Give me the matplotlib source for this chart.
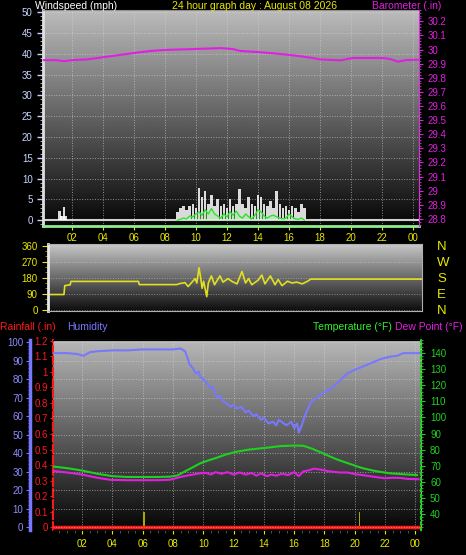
#!/usr/bin/env python3
"""24 hour weather graph: wind/barometer, wind direction, rain/humidity/temperature."""
import matplotlib
matplotlib.use("Agg")
import matplotlib.pyplot as plt
import numpy as np
from matplotlib.ticker import MultipleLocator, FixedLocator

# ---- data ----
hour_ticks = [2, 4, 6, 8, 10, 12, 14, 16, 18, 20, 22, 24]
hour_labels = ["02", "04", "06", "08", "10", "12", "14", "16", "18", "20", "22", "00"]

baro_hours = [0.15, 1, 1.5, 2, 3, 4, 5, 6, 7, 8, 8.5, 9.5, 10.5, 11.1, 11.6, 12.4,
              12.85, 14, 15, 16, 16.7, 17.5, 18, 19, 19.3, 20.1, 21, 22.1, 22.6, 23,
              23.5, 24.3]
baro_inhg = [29.925, 29.925, 29.917, 29.925, 29.93, 29.945, 29.96, 29.975, 29.989,
             29.997, 29.999, 30.002, 30.006, 30.008, 30.01, 30.003, 29.99, 29.982,
             29.973, 29.962, 29.953, 29.94, 29.93, 29.925, 29.923, 29.94, 29.94,
             29.94, 29.93, 29.914, 29.925, 29.928]

gust_hours = [1.2, 1.3, 1.4, 1.5, 1.6] + list(np.round(np.arange(8.8, 17.01, 0.2), 1))
gust_mph = [2.3, 1.0, 1.0, 3.1, 1.0,
            2, 3, 3.5, 2.5, 3.5, 4, 3, 7.8, 5.5, 7, 4, 6, 3.5, 5, 3.5, 4, 3, 5, 3.5,
            4, 7.5, 4, 3, 5.5, 4, 3.5, 6, 5.5, 4, 3.5, 4.5, 3, 7, 4, 3, 3.5, 2.5,
            3.5, 3, 2, 4, 3]
avg_mph = [0, 0, 0, 0, 0,
           0, 0.2, 0.5, 0.3, 1, 0.8, 1.5, 2, 1.2, 2.5, 1.5, 2.8, 1.5, 1, 0.5, 1.5,
           0.8, 2, 1.2, 2.2, 1, 0.5, 1.5, 0.8, 0.3, 1.2, 2.5, 2, 1, 0.5, 1, 1.2, 0.8,
           0.5, 0.3, 0.5, 1.5, 0.8, 0.3, 0.2, 0.5, 0]

dir_hours = [0.5, 1.5, 1.55, 1.9, 1.95, 6.3, 6.35, 8.76, 8.97, 9.3, 9.5, 9.8, 9.95,
             10.06, 10.2, 10.3, 10.4, 10.5, 10.7, 10.8, 11.0, 11.2, 11.55, 11.75,
             12.07, 12.3, 12.65, 12.97, 13.2, 13.4, 13.6, 14.0, 14.25, 14.45, 14.8,
             15.1, 15.3, 15.55, 15.9, 16.2, 16.5, 16.85, 17.2, 17.4, 24.6]
dir_deg = [85, 85, 135, 140, 159, 159, 141, 141, 147, 152, 130, 160, 175, 150, 236,
           185, 120, 160, 73, 150, 190, 140, 190, 155, 175, 160, 145, 215, 150, 175,
           140, 165, 195, 145, 190, 140, 170, 135, 160, 150, 155, 145, 160, 172, 172]

hum_hours = [0.1, 1.0, 1.7, 2.1, 2.5, 3.0, 4.0, 5.0, 6.0, 7.0, 8.0, 8.5, 8.8, 9.1,
             9.3, 9.5, 9.7, 9.8, 10.0, 10.2, 10.3, 10.5, 10.6, 10.8, 10.9, 11.1, 11.3,
             11.5, 11.8, 12.0, 12.2, 12.5, 12.8, 13.0, 13.3, 13.5, 13.8, 14.0, 14.3,
             14.6, 14.8, 15.0, 15.3, 15.5, 15.8, 16.0, 16.2, 16.3, 16.5, 16.7, 17.1,
             17.5, 18.0, 18.4, 19.0, 19.5, 20.0, 20.6, 21.2, 21.7, 22.3, 22.8, 23.2,
             24.3]
hum_pct = [94, 94, 93.5, 92.5, 94.5, 95, 95.5, 95.5, 96, 96, 96, 96.5, 95, 88, 86, 83,
           84, 81, 80, 78, 77, 75, 76, 72, 70, 71, 68, 67, 65, 66, 64, 65, 62, 63, 60,
           61, 58, 59, 56, 57, 55, 58, 56, 55, 57, 53.5, 56, 51, 55, 60, 67.5, 70, 73,
           74.6, 79, 83, 85, 87, 89, 90.8, 92, 92.6, 94, 94]

temp_hours = [0.1, 1, 2, 3, 4, 5, 6, 7, 7.8, 8.3, 8.7, 9.2, 9.8, 10.4, 10.9, 11.5,
              12.2, 13, 14, 14.5, 15.1, 16, 16.6, 17.2, 17.7, 18.3, 18.8, 19.4, 19.9,
              20.5, 21.2, 21.8, 22.3, 23, 24.1]
temp_f = [69.5, 68.5, 67, 65, 63.5, 63, 63, 63, 63.2, 64, 66, 68.5, 71.5, 73.5, 75,
          77, 78.7, 80, 81, 81.5, 82.2, 82.5, 82.4, 80.5, 78.5, 76, 74, 72, 70.4,
          68.5, 67, 66, 65.3, 64.8, 64.2]

dew_hours = [0.1, 1, 2, 3, 3.9, 5, 6, 7, 7.8, 8.5, 9, 9.8, 10.2, 10.5, 10.8, 11.2,
             11.6, 12, 12.4, 12.8, 13.2, 13.5, 13.8, 14.2, 14.5, 14.8, 15.2, 15.6, 16,
             16.3, 16.6, 17, 17.3, 17.8, 18.3, 19, 19.5, 20, 20.5, 21, 21.5, 22, 22.5,
             23, 23.5, 24.2]
dew_f = [66.7, 65.8, 64.5, 62.5, 61.2, 61, 61, 61, 61.3, 63, 64, 65.3, 65.5, 64.5, 66,
         65, 66, 64.5, 65.8, 64.5, 65.5, 63.8, 65.2, 63.5, 64.5, 63.8, 65, 64.2, 66,
         63.5, 66.5, 67.2, 68.2, 67.5, 66.5, 65.8, 65.8, 64.8, 64.2, 63.5, 62.8, 62.2,
         62.5, 62.4, 61.8, 61.6]

rain_hours = [0.1, 24.4]
rain_in = [0, 0]
rate_hours = [6.1, 20.3]
rate_in = [0.1, 0.1]

compass = ["N", "E", "S", "W", "N"]

YELLOW = "#e8e800"
MAGENTA = "#e020e0"
GREEN = "#20d020"
BLUE = "#7878ff"
RED = "#ff1818"

plt.rcParams["font.family"] = ["Liberation Sans", "DejaVu Sans"]
plt.rcParams["font.size"] = 7


def shade(ax, top, bottom):
    grad = np.linspace(top, bottom, 256).reshape(-1, 1)
    ax.imshow(grad, extent=[0, 1, 0, 1], transform=ax.transAxes, aspect="auto",
              cmap="gray", vmin=0, vmax=1, zorder=0, interpolation="bilinear")


def px(x, y, w, h):
    W, H = 466, 555
    return [x / W, 1 - (y + h) / H, w / W, h / H]


def short(v, p):
    # 30 -> "30", 29.9 -> "29.9", 1.0 -> "1"
    if abs(v - round(v)) < 1e-6:
        return "%d" % round(v)
    return "%.1f" % v


fig = plt.figure(figsize=(4.66, 5.55), dpi=100, facecolor="black")

# ---- 1) windspeed + barometer ----
ax = fig.add_axes(px(43, 10, 376, 216))
shade(ax, 0.74, 0.02)
ax.bar(gust_hours, gust_mph, width=0.16, color="white", alpha=0.85, zorder=3)
ax.fill_between(gust_hours[5:], 0, avg_mph[5:], color="#a0f0a0", alpha=0.45,
                zorder=4, linewidth=0)
ax.plot(gust_hours[5:], avg_mph[5:], color="#30e030", lw=1.0, zorder=5)
ax.axhline(0, color="#d0d0d0", lw=1.5, zorder=2)
ax.set_xlim(0.15, 24.37)
ax.set_ylim(-1.4, 50.5)
ax.yaxis.set_major_locator(MultipleLocator(5))
ax.yaxis.set_minor_locator(MultipleLocator(1))
ax.xaxis.set_major_locator(FixedLocator(hour_ticks))
ax.set_xticklabels(hour_labels)
ax.grid(color="#d8d8d8", ls=":", lw=0.7, alpha=0.6)
ax.tick_params(axis="y", colors="#c8d4ff", labelsize=7, length=4, width=1)
ax.tick_params(axis="y", which="minor", colors="#c8c8c8", length=2)
ax.tick_params(axis="x", colors=YELLOW, labelsize=7, length=3, pad=2)
for s in ax.spines.values():
    s.set_color("#909090")
ax.spines["left"].set_color("#e0e0e0")
ax.spines["left"].set_linewidth(2)
ax.spines["bottom"].set_color("#90ee90")
ax.spines["bottom"].set_linewidth(2)

axb = ax.twinx()
axb.plot(baro_hours, baro_inhg, color=MAGENTA, lw=1.5)
axb.set_ylim(28.75, 30.28)
axb.yaxis.set_major_locator(MultipleLocator(0.1))
axb.yaxis.set_minor_locator(MultipleLocator(0.02))
axb.yaxis.set_major_formatter(plt.FuncFormatter(short))
axb.tick_params(axis="y", colors=MAGENTA, labelsize=7, length=3)
axb.tick_params(axis="y", which="minor", colors=MAGENTA, length=1.5)
axb.spines["right"].set_color(MAGENTA)
axb.spines["right"].set_linestyle(":")
for k in ("left", "top", "bottom"):
    axb.spines[k].set_visible(False)

fig.text(35 / 466, 1 - 6 / 555, "Windspeed (mph)", color="white", fontsize=7.5, va="center")
fig.text(172 / 466, 1 - 6 / 555, "24 hour graph day : August 08 2026", color=YELLOW,
         fontsize=7.5, va="center")
fig.text(372 / 466, 1 - 6 / 555, "Barometer (.in)", color=MAGENTA, fontsize=7.5, va="center")

# ---- 2) wind direction ----
ad = fig.add_axes(px(48, 244, 374, 67))
shade(ad, 0.78, 0.05)
ad.plot(dir_hours, dir_deg, color="#e0e020", lw=1.2)
ad.set_xlim(0.47, 24.57)
ad.set_ylim(-8, 370)
ad.set_yticks([0, 90, 180, 270, 360])
ad.yaxis.set_minor_locator(MultipleLocator(30))
ad.set_xticks([])
ad.grid(axis="y", color="#d8d8d8", ls=":", lw=0.7, alpha=0.5)
ad.tick_params(axis="y", colors=YELLOW, labelsize=7, length=4)
ad.tick_params(axis="y", which="minor", colors="#a0a000", length=2)
for s in ad.spines.values():
    s.set_color("#b0b0b0")
ad.spines["left"].set_color("#e8e8e8")
ad.spines["left"].set_linewidth(2)

adr = ad.twinx()
adr.set_ylim(ad.get_ylim())
adr.set_yticks([0, 90, 180, 270, 360])
adr.set_yticklabels(compass)
adr.tick_params(axis="y", colors=YELLOW, labelsize=9.5, length=0, pad=11)
for s in adr.spines.values():
    s.set_visible(False)

# ---- 3) rain / humidity / temperature ----
ar = fig.add_axes(px(53, 340, 368, 190))
shade(ar, 0.72, 0.02)
ar.plot(rain_hours, rain_in, color=RED, lw=2.5, zorder=4)
ar.bar(rate_hours, rate_in, width=0.1, color="#a8a800", zorder=3)
ar.set_xlim(0.08, 24.37)
ar.set_ylim(-0.019, 1.206)
ar.yaxis.set_major_locator(MultipleLocator(0.1))
ar.yaxis.set_major_formatter(plt.FuncFormatter(short))
ar.xaxis.set_major_locator(FixedLocator(hour_ticks))
ar.set_xticklabels(hour_labels)
ar.xaxis.set_minor_locator(MultipleLocator(0.5))
ar.grid(axis="x", color="#d8d8d8", ls=":", lw=0.7, alpha=0.6)
ar.tick_params(axis="y", colors=RED, labelsize=7, length=2, pad=1.5)
ar.tick_params(axis="x", colors=YELLOW, labelsize=7, length=3)
ar.tick_params(axis="x", which="minor", colors="#606060", length=2)
for s in ar.spines.values():
    s.set_color("#b0b0b0")
ar.spines["left"].set_color(RED)
ar.spines["left"].set_linestyle("--")
ar.spines["left"].set_linewidth(1.5)

ah = ar.twinx()
ah.plot(hum_hours, hum_pct, color=BLUE, lw=1.5)
ah.set_ylim(-1.6, 101.1)
ah.yaxis.set_ticks_position("left")
ah.yaxis.set_label_position("left")
ah.spines["left"].set_position(("outward", 16.5))
ah.spines["left"].set_visible(True)
ah.spines["left"].set_color(BLUE)
ah.spines["left"].set_linewidth(2.5)
ah.spines["right"].set_visible(False)
ah.yaxis.set_major_locator(MultipleLocator(10))
ah.yaxis.set_minor_locator(MultipleLocator(2))
ah.grid(axis="y", color="#d8d8d8", ls=":", lw=0.7, alpha=0.6)
ah.tick_params(axis="y", colors=BLUE, labelsize=7, length=3, pad=2)
ah.tick_params(axis="y", which="minor", colors=BLUE, length=1.5)
ah.yaxis.set_tick_params(labelcolor="#8c8cff")

at = ar.twinx()
at.plot(temp_hours, temp_f, color=GREEN, lw=1.5)
at.plot(dew_hours, dew_f, color=MAGENTA, lw=1.5)
at.set_ylim(30.06, 148.1)
at.set_yticks([40, 50, 60, 70, 80, 90, 100, 110, 120, 130, 140])
at.yaxis.set_minor_locator(MultipleLocator(2))
at.tick_params(axis="y", colors=GREEN, labelsize=7, length=3)
at.tick_params(axis="y", which="minor", colors=GREEN, length=1.5)
at.spines["right"].set_color(GREEN)
at.spines["right"].set_linestyle(":")
at.spines["right"].set_linewidth(1.5)
for k in ("left", "top", "bottom"):
    at.spines[k].set_visible(False)

fig.text(0 / 466, 1 - 327 / 555, "Rainfall (.in)", color=RED, fontsize=7.5, va="center")
fig.text(67 / 466, 1 - 327 / 555, "Humidity", color=BLUE, fontsize=7.5, va="center")
fig.text(313 / 466, 1 - 327 / 555, "Temperature (\u00b0F)", color="#30f030", fontsize=7.5,
         va="center")
fig.text(395 / 466, 1 - 327 / 555, "Dew Point (\u00b0F)", color=MAGENTA, fontsize=7.5,
         va="center")

fig.savefig("out.png", dpi=100, facecolor="black")
